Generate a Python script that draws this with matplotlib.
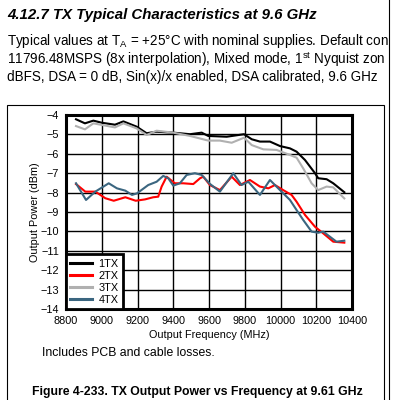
import matplotlib
matplotlib.use("Agg")
import matplotlib.pyplot as plt
from matplotlib.patches import Rectangle
from matplotlib.lines import Line2D

plt.rcParams['font.family'] = ['Liberation Sans', 'DejaVu Sans']

# --- data (MHz, dBm) ---
tx1_freq = [8856, 8906, 8953, 9001, 9074, 9121, 9195, 9251, 9307, 9400, 9494, 9559,
            9596, 9699, 9796, 9839, 9885, 9941, 9997, 10053, 10090, 10137, 10193,
            10211, 10258, 10295, 10357]
tx1_dbm = [-4.22, -4.43, -4.29, -4.40, -4.50, -4.33, -4.60, -4.94, -4.86, -4.91, -4.99,
           -4.91, -5.08, -5.12, -4.99, -5.25, -5.37, -5.37, -5.60, -5.72, -5.89, -6.32,
           -7.00, -7.26, -7.31, -7.52, -7.98]

tx2_freq = [8856, 8908, 8964, 9020, 9067, 9132, 9190, 9242, 9288, 9316, 9335, 9363,
            9409, 9456, 9512, 9550, 9568, 9605, 9661, 9727, 9773, 9829, 9885, 9932,
            9969, 10015, 10062, 10090, 10137, 10193, 10239, 10295, 10357]
tx2_dbm = [-7.56, -7.95, -7.95, -8.29, -8.42, -8.24, -8.42, -8.35, -8.24, -8.21, -7.69,
           -7.18, -7.52, -7.52, -7.56, -7.26, -7.18, -7.61, -7.87, -7.18, -7.61, -7.35,
           -7.69, -7.78, -7.61, -7.87, -8.12, -8.47, -9.15, -9.76, -10.10, -10.53, -10.58]

tx3_freq = [8856, 8906, 8953, 9074, 9121, 9195, 9251, 9307, 9400, 9494, 9596, 9661,
            9727, 9796, 9839, 9904, 9978, 10053, 10090, 10127, 10174, 10211, 10258,
            10295, 10357]
tx3_dbm = [-4.57, -4.74, -4.43, -4.64, -4.43, -4.69, -5.03, -4.81, -4.91, -5.08, -5.32,
           -5.32, -5.43, -5.17, -5.55, -5.77, -5.80, -6.06, -6.20, -6.75, -7.52, -7.87,
           -7.69, -7.73, -8.30]

tx4_freq = [8856, 8912, 8964, 9039, 9085, 9132, 9169, 9197, 9260, 9307, 9344, 9372,
            9400, 9437, 9475, 9521, 9559, 9605, 9661, 9736, 9782, 9820, 9885, 9941,
            9997, 10053, 10090, 10127, 10174, 10211, 10239, 10276, 10313, 10357]
tx4_dbm = [-7.52, -8.38, -7.95, -7.52, -7.78, -7.90, -8.12, -8.04, -7.61, -7.44, -7.14,
           -7.26, -7.64, -7.52, -7.09, -7.00, -7.09, -7.55, -7.95, -7.00, -7.61, -7.44,
           -8.12, -7.35, -7.87, -8.38, -8.90, -9.41, -10.01, -10.07, -10.01, -10.27,
           -10.53, -10.48]

series = [
    ('1TX', tx1_freq, tx1_dbm, 'black'),
    ('2TX', tx2_freq, tx2_dbm, '#ff0000'),
    ('3TX', tx3_freq, tx3_dbm, '#b0b0b0'),
    ('4TX', tx4_freq, tx4_dbm, '#3b6680'),
]

W, H = 394, 400


def fx(x):
    return x / W


def fy(y):
    return 1 - y / H


fig = plt.figure(figsize=(W / 100, H / 100), dpi=100)
fig.patch.set_facecolor('white')

# page text (the paragraph is cut by the page edge in the source)
fig.text(fx(7), fy(14.5), '4.12.7 TX Typical Characteristics at 9.6 GHz',
         fontsize=10.8, fontweight='bold', style='italic', va='center')
para = [
    r'Typical values at T$_\mathregular{A}$ = +25°C with nominal supplies. Default con',
    r'11796.48MSPS (8x interpolation), Mixed mode, 1$^\mathregular{st}$ Nyquist zon',
    'dBFS, DSA = 0 dB, Sin(x)/x enabled, DSA calibrated, 9.6 GHz',
]
for i, line in enumerate(para):
    fig.text(fx(7), fy(41 + 18 * i), line, fontsize=9.75, va='center')

# figure box and page edge
fig.patches.append(Rectangle((fx(7), fy(404)), fx(384) - fx(7), fy(104.5) - fy(404),
                             transform=fig.transFigure, fill=False, lw=0.8,
                             edgecolor='black'))
fig.lines.append(Line2D([fx(389), fx(389)], [0, 1], transform=fig.transFigure,
                        color='black', lw=0.8))

# chart
ax = fig.add_axes([fx(66), fy(309), fx(352) - fx(66), fy(115) - fy(309)])
for name, f, v, c in series:
    ax.plot(f, v, color=c, lw=1.5, label=name)

ax.set_xlim(8800, 10400)
ax.set_ylim(-14, -4)
ax.set_xticks(range(8800, 10401, 200))
ax.set_yticks(range(-14, -3))
ax.grid(True, color='black', lw=1.0)
ax.set_axisbelow(True)
for s in ax.spines.values():
    s.set_linewidth(2.2)
ax.tick_params(length=0, labelsize=7.8, pad=5)
ax.set_xlabel('Output Frequency (MHz)', fontsize=7.8, labelpad=3)
ax.set_ylabel('Output Power (dBm)', fontsize=7.8, labelpad=0)

leg = ax.legend(loc='lower left', borderaxespad=0, fontsize=7.8, fancybox=False,
                framealpha=1, edgecolor='black', handlelength=2.0,
                labelspacing=0.18, borderpad=0.4, handletextpad=0.6)
leg.get_frame().set_linewidth(2.0)
for h in leg.get_lines():
    h.set_linewidth(2.2)

fig.text(fx(42), fy(353), 'Includes PCB and cable losses.', fontsize=8.8, va='center')
fig.text(fx(197.5), fy(392), 'Figure 4-233. TX Output Power vs Frequency at 9.61 GHz',
         fontsize=8.8, fontweight='bold', ha='center', va='center')

fig.savefig('out.png', dpi=100)
